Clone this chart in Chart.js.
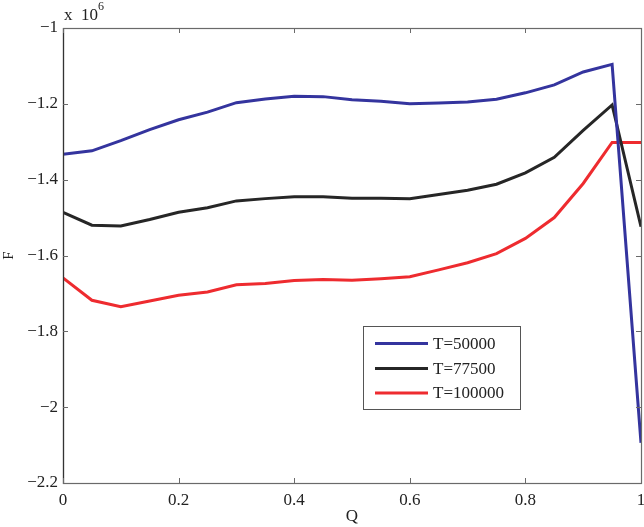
<!DOCTYPE html>
<html>
<head>
<meta charset="utf-8">
<script src="https://cdn.jsdelivr.net/npm/chart.js@4/dist/chart.umd.min.js"></script>
<style>
html,body{margin:0;padding:0;background:#fff;}
#wrap{width:644px;height:527px;position:relative;}
</style>
</head>
<body>
<div id="wrap"><canvas id="c" width="644" height="527"></canvas></div>
<script>
const Q = [0,0.05,0.1,0.15,0.2,0.25,0.3,0.35,0.4,0.45,0.5,0.55,0.6,0.65,0.7,0.75,0.8,0.85,0.9,0.95,1];
const F_T50000 = [-1.333e6,-1.324e6,-1.297e6,-1.268e6,-1.242e6,-1.222e6,-1.197e6,-1.187e6,-1.180e6,-1.181e6,-1.189e6,-1.193e6,-1.200e6,-1.198e6,-1.195e6,-1.188e6,-1.171e6,-1.150e6,-1.116e6,-1.096e6,-2.094e6];
const F_T77500 = [-1.486e6,-1.520e6,-1.522e6,-1.505e6,-1.486e6,-1.474e6,-1.456e6,-1.450e6,-1.445e6,-1.445e6,-1.449e6,-1.449e6,-1.450e6,-1.439e6,-1.428e6,-1.412e6,-1.382e6,-1.341e6,-1.270e6,-1.203e6,-1.524e6];
const F_T100000 = [-1.659e6,-1.718e6,-1.735e6,-1.720e6,-1.705e6,-1.696e6,-1.677e6,-1.674e6,-1.666e6,-1.663e6,-1.665e6,-1.661e6,-1.656e6,-1.638e6,-1.619e6,-1.595e6,-1.555e6,-1.500e6,-1.410e6,-1.302e6,-1.302e6];
const seriesLabels = ["T=50000","T=77500","T=100000"];
const seriesColors = ["#34349e","#262626","#ee2b2f"];
const xTicks = [0,0.2,0.4,0.6,0.8,1];
const yTicks = [-2.2e6,-2.0e6,-1.8e6,-1.6e6,-1.4e6,-1.2e6,-1.0e6];
const xTitle = "Q";
const yTitle = "F";
const expLabel = ["x  10","6"];

const FONT = "'Liberation Serif', 'DejaVu Serif', serif";
const allSeries = [F_T50000, F_T77500, F_T100000];

const datasets = allSeries.map((arr, i) => ({
  label: seriesLabels[i],
  data: Q.map((q, j) => ({x: q, y: arr[j]})),
  borderColor: seriesColors[i],
  backgroundColor: seriesColors[i],
  borderWidth: 3,
  pointRadius: 0,
  tension: 0,
  fill: false
}));

const framePlugin = {
  id: 'frame',
  afterDatasetsDraw(chart) {
    const {ctx, chartArea: a, scales} = chart;
    ctx.save();
    ctx.strokeStyle = '#6a6a6a';
    ctx.lineWidth = 1.2;
    ctx.strokeRect(a.left + 0.5, a.top + 0.5, a.right - a.left, a.bottom - a.top);
    ctx.strokeStyle = '#333';
    ctx.beginPath();
    ctx.moveTo(a.left + 0.5, a.top); ctx.lineTo(a.left + 0.5, a.bottom + 1);
    ctx.stroke();
    ctx.strokeStyle = '#6a6a6a';
    ctx.lineWidth = 1;
    const tl = 5;
    ctx.beginPath();
    xTicks.forEach(v => {
      const px = Math.round(scales.x.getPixelForValue(v)) + 0.5;
      ctx.moveTo(px, a.bottom); ctx.lineTo(px, a.bottom - tl);
      ctx.moveTo(px, a.top); ctx.lineTo(px, a.top + tl);
    });
    yTicks.forEach(v => {
      const py = Math.round(scales.y.getPixelForValue(v)) + 0.5;
      ctx.moveTo(a.left, py); ctx.lineTo(a.left + tl, py);
      ctx.moveTo(a.right, py); ctx.lineTo(a.right - tl, py);
    });
    ctx.stroke();
    ctx.restore();
  },
  afterDraw(chart) {
    const {ctx} = chart;
    ctx.save();
    ctx.fillStyle = '#222';
    ctx.textBaseline = 'alphabetic';
    ctx.textAlign = 'left';
    ctx.font = "17px " + FONT;
    ctx.fillText(expLabel[0], 64, 20);
    ctx.font = "12px " + FONT;
    ctx.fillText(expLabel[1], 98, 10);
    const bx = 363, by = 326, bw = 157, bh = 83;
    ctx.fillStyle = '#fff';
    ctx.fillRect(bx, by, bw, bh);
    ctx.strokeStyle = '#555';
    ctx.lineWidth = 1;
    ctx.strokeRect(bx + 0.5, by + 0.5, bw, bh);
    const rows = [343.5, 368.5, 393];
    chart.data.datasets.forEach((ds, i) => {
      ctx.strokeStyle = ds.borderColor;
      ctx.lineWidth = 3;
      ctx.beginPath();
      ctx.moveTo(375, rows[i]); ctx.lineTo(428, rows[i]);
      ctx.stroke();
      ctx.fillStyle = '#222';
      ctx.font = "17px " + FONT;
      ctx.textBaseline = 'middle';
      ctx.fillText(ds.label, 433, rows[i] + 1);
    });
    ctx.restore();
  }
};

new Chart(document.getElementById('c'), {
  type: 'line',
  data: {datasets},
  options: {
    responsive: false,
    animation: false,
    devicePixelRatio: 1,
    layout: {padding: {left: 0, right: 3, top: 28, bottom: 0}},
    plugins: {legend: {display: false}, tooltip: {enabled: false}},
    scales: {
      x: {
        type: 'linear', min: 0, max: 1,
        afterBuildTicks(s) { s.ticks = xTicks.map(v => ({value: v})); },
        afterFit(s) { s.height = 44; s.paddingLeft = 0; s.paddingRight = 0; },
        grid: {display: false, drawTicks: false},
        border: {display: false},
        ticks: {
          padding: 7, color: '#222', maxRotation: 0,
          font: {family: FONT, size: 17},
          callback: v => String(Number(v.toFixed(1)))
        },
        title: {display: true, text: xTitle, color: '#222', padding: 0, font: {family: FONT, size: 17}}
      },
      y: {
        type: 'linear', min: -2.2e6, max: -1.0e6,
        afterBuildTicks(s) { s.ticks = yTicks.map(v => ({value: v})); },
        afterFit(s) { s.width = 63; s.paddingTop = 0; s.paddingBottom = 0; },
        grid: {display: false, drawTicks: false},
        border: {display: false},
        ticks: {
          padding: 5, color: '#222',
          font: {family: FONT, size: 17},
          callback: v => String(Number((v / 1e6).toFixed(1))).replace('-', '\u2212')
        },
        title: {display: true, text: yTitle, color: '#222', padding: 0, font: {family: FONT, size: 15}}
      }
    }
  },
  plugins: [framePlugin]
});
</script>
</body>
</html>
